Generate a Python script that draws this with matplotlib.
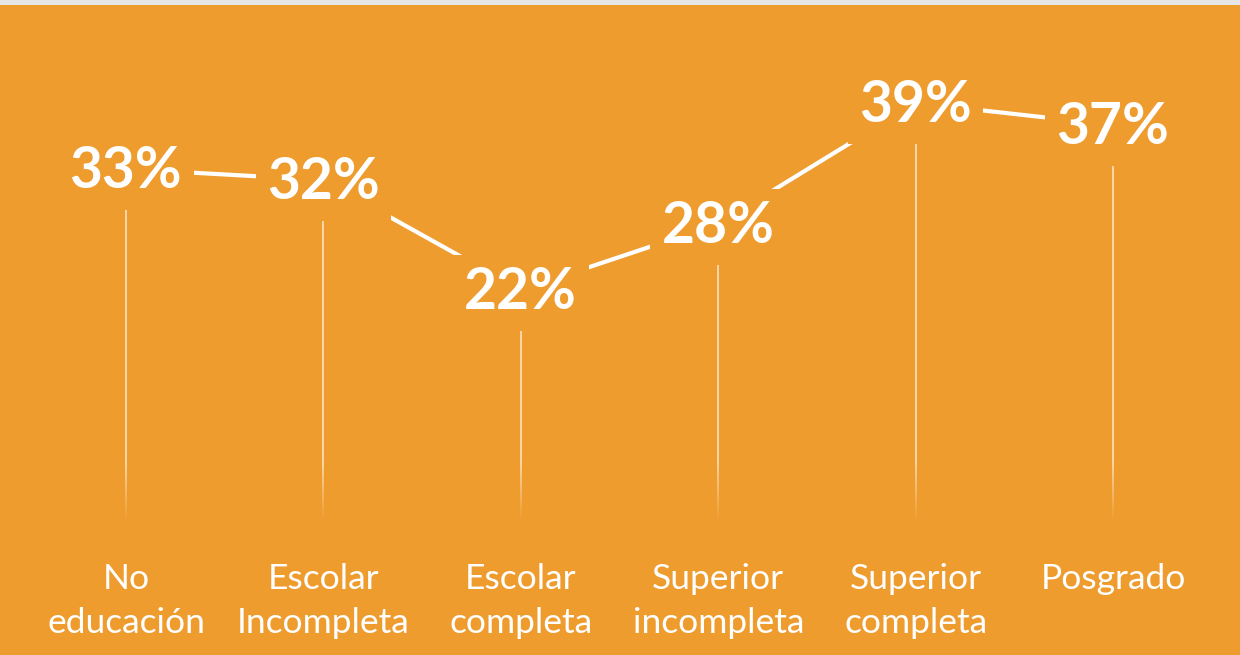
import numpy as np
import matplotlib.pyplot as plt
from matplotlib.collections import LineCollection

# data
categories = ["No\neducación", "Escolar\nIncompleta", "Escolar\ncompleta",
              "Superior\nincompleta", "Superior\ncompleta", "Posgrado"]
values = [33, 32, 22, 28, 39, 37]

orange = "#EF9C2F"

fig = plt.figure(figsize=(12.4, 6.55), dpi=100)
fig.patch.set_facecolor(orange)
ax = fig.add_axes([0, 0, 1, 1])
ax.set_facecolor(orange)
ax.axis("off")

# pixel mapping: x center of first label 126 px, step 197.4 px; 11 px per %
ax.set_xlim(-0.638, 5.643)
ax.set_ylim(-11.18, 48.36)

x = np.arange(len(values))

# connecting line (gets hidden under the label boxes)
ax.plot(x, values, color="white", lw=3, solid_capstyle="butt", zorder=2)

# fading drop lines under each label
for xi, v in zip(x, values):
    top = v - 3.6
    bottom = 1.0
    ys = np.linspace(top, bottom, 80)
    segs = [[(xi, ys[k]), (xi, ys[k + 1])] for k in range(len(ys) - 1)]
    mids = (ys[:-1] + ys[1:]) / 2
    a = np.clip((mids - bottom) / 5.5, 0, 1) * 0.6
    cols = [(1, 1, 1, ai) for ai in a]
    ax.add_collection(LineCollection(segs, colors=cols, linewidths=1.4, zorder=1))

# value labels
for xi, v in zip(x, values):
    ax.text(xi, v - 0.25, f"{v}%", ha="center", va="center", color="white",
            fontsize=41, fontweight="bold", family="Lato", zorder=3,
            bbox=dict(boxstyle="square,pad=0.2", fc=orange, ec="none"))

# category labels
for xi, c in zip(x, categories):
    ax.text(xi, -2.8, c, ha="center", va="top", color="white",
            fontsize=25.5, family="Lato", linespacing=1.46, zorder=3)

# thin light strip along the top edge
fig.patches.append(plt.Rectangle((0, 1 - 5 / 655), 1, 5 / 655, transform=fig.transFigure,
                                 fc="#E6E6E6", ec="none", zorder=5))

fig.savefig("out.png", dpi=100, facecolor=orange)
